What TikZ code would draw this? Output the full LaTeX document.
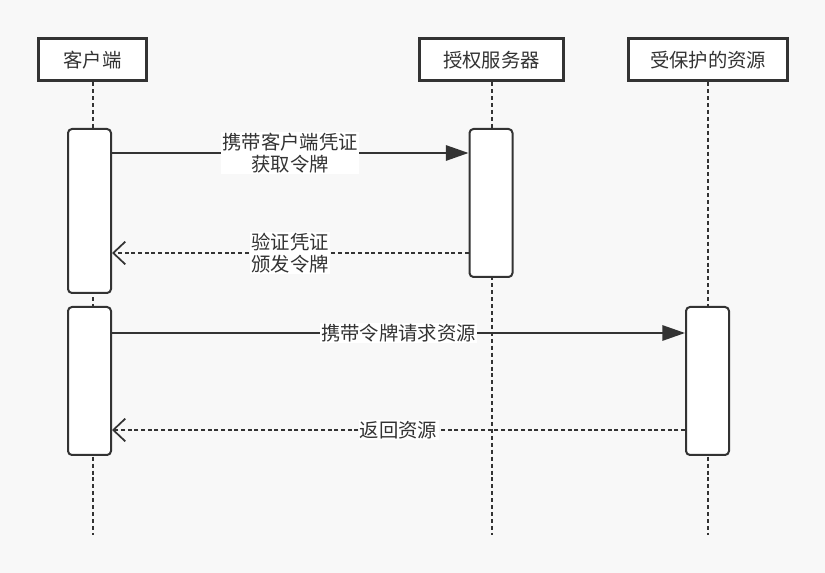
\documentclass[tikz,border=0pt]{standalone}
\usepackage{fontspec}
\setmainfont{Noto Sans CJK SC}
\usetikzlibrary{arrows.meta}
\definecolor{ink}{HTML}{333333}
\definecolor{paper}{HTML}{F8F8F8}
\tikzset{
  head/.style={draw=ink,line width=2.25pt,fill=white,text=ink,minimum height=31.5pt,inner sep=0pt},
  act/.style={draw=ink,line width=1.5pt,fill=white,rounded corners=3pt,minimum width=32.25pt,inner sep=0pt},
  life/.style={ink,line width=1.5pt,dash pattern=on 3pt off 2.2pt},
  call/.style={ink,line width=1.5pt,-{Triangle[length=17pt,width=11.5pt]}},
  back/.style={ink,line width=1.5pt,dash pattern=on 3pt off 2pt,-{Straight Barb[length=9pt,width=17pt,line width=1.3pt]}},
  lbl/.style={fill=white,text=ink,align=center,inner sep=1pt,midway}
}
\begin{document}
\begin{tikzpicture}[x=0.75pt,y=-0.75pt,font=\fontsize{14.5}{16.5}\selectfont]
\fill[paper] (0,0) rectangle (825,573);
\coordinate (bot) at (0,535);
\node[head,minimum width=81pt] (cl) at (92.5,59.75) {客户端};
\node[head,minimum width=108pt] (sv) at (491.5,59.75) {授权服务器};
\node[head,minimum width=119.25pt] (rs) at (708,59.75) {受保护的资源};
\draw[life] (cl.south) -- (cl.south |- bot);
\draw[life] (sv.south) -- (sv.south |- bot);
\draw[life] (rs.south) -- (rs.south |- bot);
\node[act,minimum height=123pt] (ca1) at (89.5,211) {};
\node[act,minimum height=111pt] (sa) at (491,203) {};
\node[act,minimum height=111pt] (ca2) at (89.5,381) {};
\node[act,minimum height=111pt] (ra) at (707.5,381) {};
\coordinate (m1) at (0,153);
\coordinate (m2) at (0,253);
\coordinate (m3) at (0,333);
\coordinate (m4) at (0,430);
\draw[call] (ca1.east |- m1) -- node[lbl] {携带客户端凭证\\获取令牌} (sa.west |- m1);
\draw[back] (sa.west |- m2) -- node[lbl] {验证凭证\\颁发令牌} (ca1.east |- m2);
\draw[call] (ca2.east |- m3) -- node[lbl] {携带令牌请求资源} (ra.west |- m3);
\draw[back] (ra.west |- m4) -- node[lbl] {返回资源} (ca2.east |- m4);
\end{tikzpicture}
\end{document}
